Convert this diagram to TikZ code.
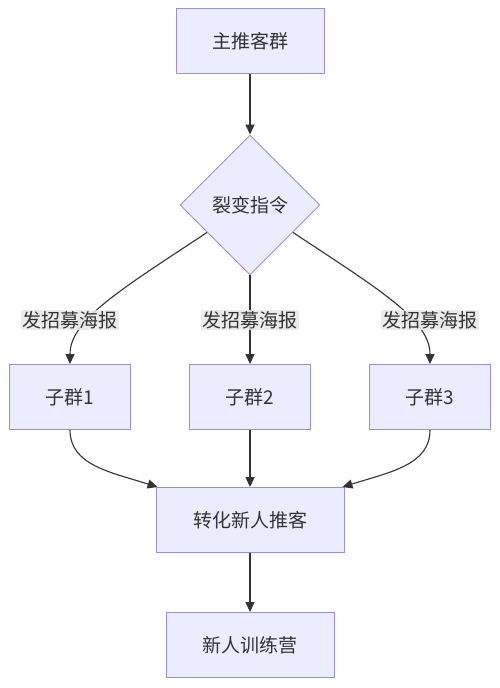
\documentclass[tikz,border=0pt]{standalone}
\usepackage{fontspec}
\setmainfont{Noto Sans CJK SC}
\usetikzlibrary{shapes.geometric,arrows.meta,calc}
\definecolor{nodefill}{HTML}{ECECFF}
\definecolor{nodeline}{HTML}{9D8FD6}
\definecolor{edgecol}{HTML}{333333}
\definecolor{lblfill}{HTML}{E8E8E8}
\tikzset{
  box/.style={draw=nodeline, fill=nodefill, line width=0.9pt, minimum height=65pt, inner sep=0pt, font=\fontsize{19}{22}\selectfont, text=edgecol},
  decision/.style={diamond, draw=nodeline, fill=nodefill, line width=0.9pt, minimum width=140pt, minimum height=140pt, inner sep=0pt, font=\fontsize{19}{22}\selectfont, text=edgecol},
  elabel/.style={fill=lblfill, fill opacity=0.85, text opacity=1, inner sep=1.5pt, font=\fontsize{19}{22}\selectfont, text=edgecol},
  link/.style={draw=edgecol, line width=1.1pt, -{Triangle[length=10pt,width=9pt]}},
  plain/.style={draw=edgecol, line width=1.1pt}
}
\begin{document}
\begin{tikzpicture}[x=1pt,y=-1pt]
\useasboundingbox[fill=white] (0,0) rectangle (500,688);
\node[box, minimum width=148pt] (top) at (250,41) {主推客群};
\node[decision] (d) at (250,205) {裂变指令};
\node[box, minimum width=121pt] (s1) at (70,397) {子群1};
\node[box, minimum width=121pt] (s2) at (250,397) {子群2};
\node[box, minimum width=121pt] (s3) at (430,397) {子群3};
\node[box, minimum width=188pt] (conv) at (250,520) {转化新人推客};
\node[box, minimum width=168pt] (camp) at (250,645) {新人训练营};

\coordinate (dl) at ($(d.west)!0.39!(d.south)$);
\coordinate (dr) at ($(d.east)!0.39!(d.south)$);
\coordinate (cl) at ($(conv.north west)+(2,0)$);
\coordinate (cr) at ($(conv.north east)+(-2,0)$);

\draw[link] (top.south) -- (d.north);
\draw[link] (dl) .. controls (120,290) and (70,320) .. (s1.north);
\draw[link] (d.south) -- (s2.north);
\draw[link] (dr) .. controls (380,290) and (430,320) .. (s3.north);

\node[elabel] (l1) at (70,320) {发招募海报};
\node[elabel] (l2) at (250,320) {发招募海报};
\node[elabel] (l3) at (430,320) {发招募海报};

\draw[link] (s1.south) .. controls (70,465) and (110,472) .. (cl);
\draw[link] (s2.south) -- (conv.north);
\draw[link] (s3.south) .. controls (430,465) and (390,472) .. (cr);
\draw[link] (conv.south) -- (camp.north);
\end{tikzpicture}
\end{document}
